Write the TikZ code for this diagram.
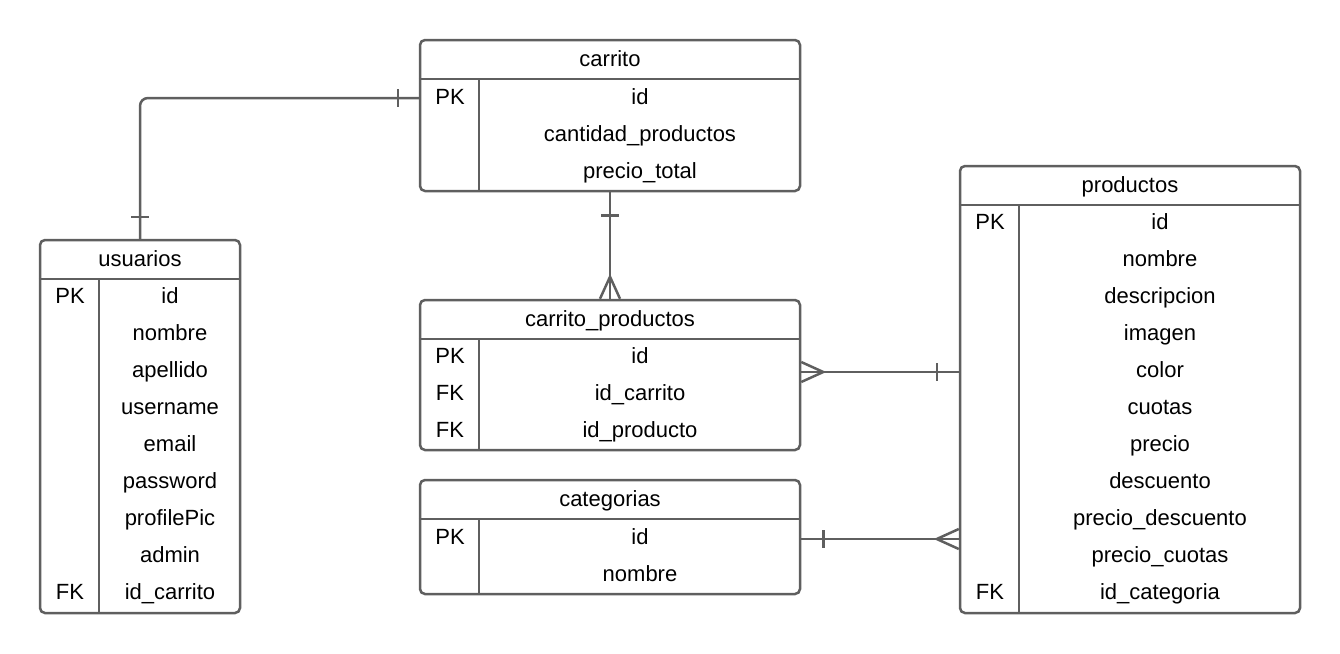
\documentclass[tikz,border=0pt]{standalone}
\usepackage{fontspec}
\setmainfont{Liberation Sans}
\usetikzlibrary{positioning,calc}
\definecolor{gris}{HTML}{5F5F5F}
\tikzstyle{tabla} = [rectangle, draw=gris, line width=2.5pt, rounded corners=5pt,
    inner sep=0pt]
\tikzstyle{campo} = [inner sep=0pt, text=black, font=\fontsize{22}{26}\selectfont,
    text height=16pt, text depth=0pt]
\tikzstyle{linea} = [draw=gris, line width=2.5pt]

\begin{document}
\begin{tikzpicture}[x=1pt,y=-1pt,node distance=37pt]
  \useasboundingbox (0,0) rectangle (1340,653);

  % tablas
  \node[tabla, minimum width=200pt, minimum height=373pt] (usuarios)   at (140,426.5) {};
  \node[tabla, minimum width=380pt, minimum height=151pt] (carrito)    at (610,115.5) {};
  \node[tabla, minimum width=380pt, minimum height=150pt] (cp)         at (610,375)   {};
  \node[tabla, minimum width=380pt, minimum height=114pt] (categorias) at (610,537)   {};
  \node[tabla, minimum width=340pt, minimum height=447pt] (productos)  at (1130,389.5) {};

  \foreach \t/\k in {usuarios/60,carrito/60,cp/60,categorias/60,productos/60} {
    \draw[linea] ($(\t.north west)+(0,40)$) -- ($(\t.north east)+(0,40)$);
    \draw[linea] ($(\t.north west)+(\k,40)$) -- ($(\t.south west)+(\k,0)$);
  }

  % usuarios
  \node[campo] (uT)  at (140,258) {usuarios};
  \node[campo] (uPK) at (70,295)  {PK};
  \node[campo] (uFK) at (70,591)  {FK};
  \node[campo] (u1)  at (170,295) {id};
  \node[campo] (u2) [below of=u1] {nombre};
  \node[campo] (u3) [below of=u2] {apellido};
  \node[campo] (u4) [below of=u3] {username};
  \node[campo] (u5) [below of=u4] {email};
  \node[campo] (u6) [below of=u5] {password};
  \node[campo] (u7) [below of=u6] {profilePic};
  \node[campo] (u8) [below of=u7] {admin};
  \node[campo] (u9) [below of=u8] {id\_carrito};

  % carrito
  \node[campo] (cT)  at (610,58)  {carrito};
  \node[campo] (cPK) at (450,96)  {PK};
  \node[campo] (c1)  at (640,96)  {id};
  \node[campo] (c2) [below of=c1] {cantidad\_productos};
  \node[campo] (c3) [below of=c2] {precio\_total};

  % carrito_productos
  \node[campo] (cpT)  at (610,318) {carrito\_productos};
  \node[campo] (cpPK) at (450,355) {PK};
  \node[campo] (cpFK1) [below of=cpPK] {FK};
  \node[campo] (cpFK2) [below of=cpFK1] {FK};
  \node[campo] (cp1)  at (640,355) {id};
  \node[campo] (cp2) [below of=cp1] {id\_carrito};
  \node[campo] (cp3) [below of=cp2] {id\_producto};

  % categorias
  \node[campo] (gT)  at (610,498) {categorias};
  \node[campo] (gPK) at (450,536) {PK};
  \node[campo] (g1)  at (640,536) {id};
  \node[campo] (g2) [below of=g1] {nombre};

  % productos
  \node[campo] (pT)  at (1130,184) {productos};
  \node[campo] (pPK) at (990,221)  {PK};
  \node[campo] (pFK) at (990,591)  {FK};
  \node[campo] (p1)  at (1160,221) {id};
  \node[campo] (p2)  [below of=p1]  {nombre};
  \node[campo] (p3)  [below of=p2]  {descripcion};
  \node[campo] (p4)  [below of=p3]  {imagen};
  \node[campo] (p5)  [below of=p4]  {color};
  \node[campo] (p6)  [below of=p5]  {cuotas};
  \node[campo] (p7)  [below of=p6]  {precio};
  \node[campo] (p8)  [below of=p7]  {descuento};
  \node[campo] (p9)  [below of=p8]  {precio\_descuento};
  \node[campo] (p10) [below of=p9]  {precio\_cuotas};
  \node[campo] (p11) [below of=p10] {id\_categoria};

  % relaciones
  \draw[linea, rounded corners=8pt] (usuarios.north) |- ([yshift=-2pt]carrito.west |- c1);
  \draw[linea] ($(usuarios.north)+(-9,-22)$) -- ++(18,0);
  \draw[linea] ($(carrito.west |- c1)+(-21,-7)$) -- ++(0,18);

  \draw[linea] (carrito.south) -- (cp.north);
  \draw[linea] ($(carrito.south)+(-9,23)$) -- ++(18,0);
  \draw[linea] ($(cp.north)+(-10,0)$) -- ($(cp.north)+(0,-22)$) -- ($(cp.north)+(10,0)$);

  \draw[linea] ([yshift=3pt]cp.east) -- ([yshift=3pt]cp.east -| productos.west);
  \draw[linea] ($(cp.east)+(0,-13)$) -- ($(cp.east)+(22,-3)$) -- ($(cp.east)+(0,7)$);
  \draw[linea] ($(cp.east -| productos.west)+(-22,-12)$) -- ++(0,18);

  \draw[linea] ([yshift=-2pt]categorias.east) -- ([yshift=-2pt]categorias.east -| productos.west);
  \draw[linea] ($(categorias.east)+(22,-7)$) -- ++(0,18);
  \draw[linea] ($(categorias.east -| productos.west)+(0,-8)$) -- ($(categorias.east -| productos.west)+(-22,2)$) -- ($(categorias.east -| productos.west)+(0,12)$);
\end{tikzpicture}
\end{document}
